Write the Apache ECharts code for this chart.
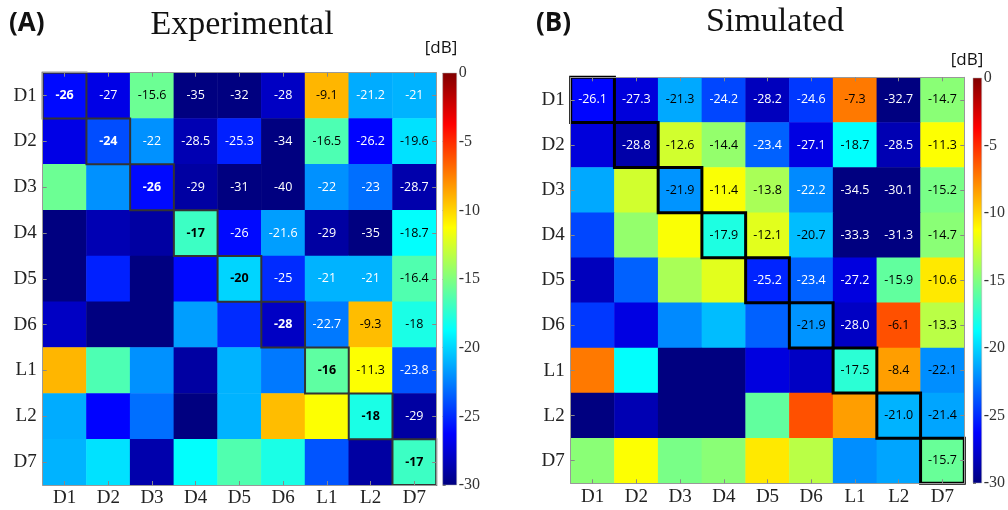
<!DOCTYPE html>
<html><head><meta charset="utf-8">
<script src="https://cdn.jsdelivr.net/npm/echarts@6/dist/echarts.min.js"></script>
<style>html,body{margin:0;padding:0;background:#fff}#c{width:1008px;height:510px}</style>
</head><body><div id="c"></div>
<script>
// ---------- data ----------
const categories = ['D1','D2','D3','D4','D5','D6','L1','L2','D7'];
const colorbarTicks = [0, -5, -10, -15, -20, -25, -30];

// (A) Experimental, rows D1..D7 (lower triangle)
const expD1 = [-26, -27, -15.6, -35, -32, -28, -9.1, -21.2, -21];
const expD2 = [-27, -24, -22, -28.5, -25.3, -34, -16.5, -26.2, -19.6];
const expD3 = [-15.6, -22, -26, -29, -31, -40, -22, -23, -28.7];
const expD4 = [-35, -28.5, -29, -17, -26, -21.6, -29, -35, -18.7];
const expD5 = [-32, -25.3, -31, -26, -20, -25, -21, -21, -16.4];
const expD6 = [-28, -34, -40, -21.6, -25, -28, -22.7, -9.3, -18];
const expL1 = [-9.1, -16.5, -22, -29, -21, -22.7, -16, -11.3, -23.8];
const expL2 = [-21.2, -26.2, -23, -35, -21, -9.3, -11.3, -18, -29];
const expD7 = [-21, -19.6, -28.7, -18.7, -16.4, -18, -23.8, -29, -17];

// (B) Simulated
const simD1 = [-26.1, -27.3, -21.3, -24.2, -28.2, -24.6, -7.3, -32.7, -14.7];
const simD2 = [-27.3, -28.8, -12.6, -14.4, -23.4, -27.1, -18.7, -28.5, -11.3];
const simD3 = [-21.3, -12.6, -21.9, -11.4, -13.8, -22.2, -34.5, -30.1, -15.2];
const simD4 = [-24.2, -14.4, -11.4, -17.9, -12.1, -20.7, -33.3, -31.3, -14.7];
const simD5 = [-28.2, -23.4, -13.8, -12.1, -25.2, -23.4, -27.2, -15.9, -10.6];
const simD6 = [-24.6, -27.1, -22.2, -20.7, -23.4, -21.9, -28.0, -6.1, -13.3];
const simL1 = [-7.3, -18.7, -34.5, -33.3, -27.2, -28.0, -17.5, -8.4, -22.1];
const simL2 = [-32.7, -28.5, -30.1, -31.3, -15.9, -6.1, -8.4, -21.0, -21.4];
const simD7 = [-14.7, -11.3, -15.2, -14.7, -10.6, -13.3, -22.1, -21.4, -15.7];

// jet colormap stops (low -> high)
const jetColors = ['#000080','#0000ff','#0080ff','#00ffff','#80ff80','#ffff00','#ff8000','#ff0000','#800000'];

// ---------- build ----------
const expRows = [expD1, expD2, expD3, expD4, expD5, expD6, expL1, expL2, expD7];
const simRows = [simD1, simD2, simD3, simD4, simD5, simD6, simL1, simL2, simD7];

function cells(rows, fmt, blackAbove, boldDiag) {
  const out = [];
  rows.forEach((row, i) => {
    row.forEach((v, j) => {
      out.push({
        value: [j, i, v],
        label: {
          show: j >= i,
          formatter: fmt(v),
          color: v > blackAbove ? '#000' : '#fff',
          fontWeight: (boldDiag && i === j) ? 'bold' : 'normal'
        }
      });
    });
  });
  return out;
}

const serifFont = '"Liberation Serif", "DejaVu Serif", serif';
const sansFont = '"Open Sans", "Liberation Sans", sans-serif';

function catAxis(grid, pos, showLabel, inverse) {
  return {
    type: 'category', data: categories, gridIndex: grid, position: pos, inverse: !!inverse,
    z: 10,
    axisLine: { show: true, onZero: false, lineStyle: { color: '#999', width: 1 } },
    axisTick: { show: true, inside: true, alignWithLabel: true, length: 4, lineStyle: { color: '#888' } },
    axisLabel: { show: showLabel, fontFamily: serifFont, fontSize: 19, color: '#222', margin: pos === 'left' ? 6 : 4 },
    splitLine: { show: false }, splitArea: { show: false }
  };
}

const grids = [
  { left: 42.7, top: 72.7, width: 393.5, height: 412.3 },
  { left: 570.7, top: 77.3, width: 393.6, height: 406 },
  { left: 442.7, top: 73, width: 14, height: 412 },
  { left: 973, top: 78, width: 13, height: 405 }
];

const xAxes = [
  catAxis(0, 'bottom', true), catAxis(1, 'bottom', true),
  catAxis(0, 'top', false), catAxis(1, 'top', false),
  { type: 'value', gridIndex: 2, min: 0, max: 1, show: false },
  { type: 'value', gridIndex: 3, min: 0, max: 1, show: false }
];
function cbAxis(grid) {
  return {
    type: 'value', gridIndex: grid, min: colorbarTicks[colorbarTicks.length - 1], max: colorbarTicks[0],
    interval: 5, position: 'right',
    axisLine: { show: false },
    axisTick: { show: true, length: 3, lineStyle: { color: '#666' } },
    axisLabel: { fontFamily: serifFont, fontSize: 16, color: '#333', margin: 2 },
    splitLine: { show: false }
  };
}
const yAxes = [
  catAxis(0, 'left', true, true), catAxis(1, 'left', true, true),
  catAxis(0, 'right', false, true), catAxis(1, 'right', false, true),
  cbAxis(2), cbAxis(3)
];

function outline(xi, color, lw) {
  return {
    type: 'custom', xAxisIndex: xi, yAxisIndex: xi, z: 5, silent: true,
    data: categories.map((c, i) => [i, i]),
    renderItem: (params, api) => {
      const p = api.coord([api.value(0), api.value(1)]);
      const s = api.size([1, 1]);
      return { type: 'rect', shape: { x: p[0] - s[0] / 2, y: p[1] - s[1] / 2, width: s[0], height: s[1] },
               style: { fill: 'none', stroke: color, lineWidth: lw } };
    }
  };
}

function colorbar(xi) {
  const stops = jetColors.map((c, k) => ({ offset: 1 - k / (jetColors.length - 1), color: c }))
                         .sort((m, n) => m.offset - n.offset);
  return {
    type: 'custom', xAxisIndex: xi, yAxisIndex: xi, silent: true,
    data: [[0, colorbarTicks[colorbarTicks.length - 1]]],
    renderItem: (params, api) => {
      const a = api.coord([0, colorbarTicks[0]]);
      const b = api.coord([1, colorbarTicks[colorbarTicks.length - 1]]);
      return { type: 'rect', shape: { x: a[0], y: a[1], width: b[0] - a[0], height: b[1] - a[1] },
               style: { fill: new echarts.graphic.LinearGradient(0, 0, 0, 1, stops), stroke: '#aaa', lineWidth: 0.5 } };
    }
  };
}

const option = {
  backgroundColor: '#fff',
  animation: false,
  grid: grids,
  xAxis: xAxes,
  yAxis: yAxes,
  visualMap: { type: 'continuous', show: false, min: -30, max: 0, seriesIndex: [0, 1], inRange: { color: jetColors } },
  series: [
    { type: 'heatmap', xAxisIndex: 0, yAxisIndex: 0, itemStyle: { borderWidth: 0 },
      label: { show: true, fontFamily: sansFont, fontSize: 12.5 }, emphasis: { disabled: true },
      data: cells(expRows, v => String(v), -20.5, true) },
    { type: 'heatmap', xAxisIndex: 1, yAxisIndex: 1, itemStyle: { borderWidth: 0 },
      label: { show: true, fontFamily: sansFont, fontSize: 12.5 }, emphasis: { disabled: true },
      data: cells(simRows, v => v.toFixed(1), -22.15, false) },
    outline(0, '#333', 2),
    outline(1, '#000', 3),
    colorbar(4),
    colorbar(5)
  ],
  graphic: [
    { type: 'text', x: 9, y: 24, style: { text: '(A)', font: 'bold 26px ' + sansFont, fill: '#111', align: 'left', verticalAlign: 'middle' } },
    { type: 'text', x: 242, y: 25, style: { text: 'Experimental', font: '34px ' + serifFont, fill: '#111', align: 'center', verticalAlign: 'middle' } },
    { type: 'text', x: 536, y: 24, style: { text: '(B)', font: 'bold 26px ' + sansFont, fill: '#111', align: 'left', verticalAlign: 'middle' } },
    { type: 'text', x: 775, y: 22, style: { text: 'Simulated', font: '34px ' + serifFont, fill: '#111', align: 'center', verticalAlign: 'middle' } },
    { type: 'text', x: 441, y: 48, style: { text: '[dB]', font: '17px ' + sansFont, fill: '#111', align: 'center', verticalAlign: 'middle' } },
    { type: 'text', x: 967, y: 60, style: { text: '[dB]', font: '17px ' + sansFont, fill: '#111', align: 'center', verticalAlign: 'middle' } }
  ]
};

const chart = echarts.init(document.getElementById('c'), null, { renderer: 'canvas' });
chart.setOption(option);
</script>
</body></html>
